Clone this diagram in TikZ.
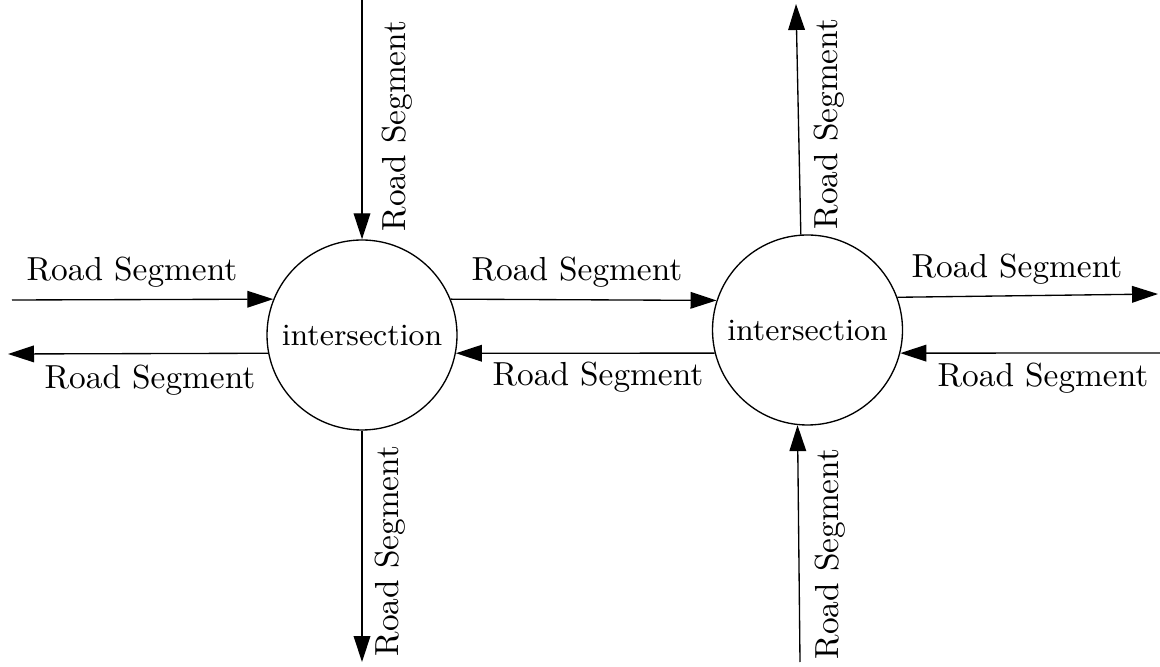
\documentclass[tikz,border=0pt]{standalone}
\usepackage{tikz}
\usetikzlibrary{
arrows.meta,
shapes,
}

\begin{document}
\begin{tikzpicture}[x=0.3pt, y=-0.3pt,
		isec/.style={circle, draw=black, thin, minimum size=57pt, inner sep=0pt, font=\fontsize{9.3}{11}\selectfont},
		road/.style={thin, -{Triangle[length=7.8pt, width=5pt]}},
		seglabel/.style={inner sep=0pt},
	]
			\useasboundingbox (0,0) rectangle (1160,667);

			% Define coordinates
			\coordinate (An) at (362,0);
			\coordinate (As) at (362,662);
			\coordinate (Awin) at (12,300);
			\coordinate (Awout) at (8,354);
			\coordinate (Bn) at (796,4);
			\coordinate (Bs) at (800,662);
			\coordinate (Beout) at (1158,294);
			\coordinate (Bein) at (1160,353);

			% The two intersections
			\node[isec] (isecA) at (362,335) {intersection};
			\node[isec] (isecB) at (807.5,330) {intersection};

			% Road segments
			\draw[road] (An) -- (isecA.north);
			\draw[road] (isecA.south) -- (As);
			\draw[road] (Awin) -- (isecA.158);
			\draw[road] (isecA.191.5) -- (Awout);
			\draw[road] (isecA.22) -- (isecB.162);
			\draw[road] (isecB.194) -- (isecA.349);
			\draw[road] (isecB.94) -- (Bn);
			\draw[road] (Bs) -- (isecB.264);
			\draw[road] (isecB.20) -- (Beout);
			\draw[road] (Bein) -- (isecB.346);

			\node[seglabel, rotate=90] (lAn) at (397,126) {Road Segment};
			\node[seglabel, rotate=90] (lAs) at (390,551) {Road Segment};
			\node[seglabel] (lAwin) at (132,272) {Road Segment};
			\node[seglabel] (lAwout) at (150,380) {Road Segment};
			\node[seglabel] (lAB) at (577,272) {Road Segment};
			\node[seglabel] (lBA) at (598,377) {Road Segment};
			\node[seglabel, rotate=90] (lBn) at (829,124) {Road Segment};
			\node[seglabel, rotate=90] (lBs) at (830,554) {Road Segment};
			\node[seglabel] (lBeout) at (1017,269) {Road Segment};
			\node[seglabel] (lBein) at (1043,378) {Road Segment};

		\end{tikzpicture}
\end{document}
